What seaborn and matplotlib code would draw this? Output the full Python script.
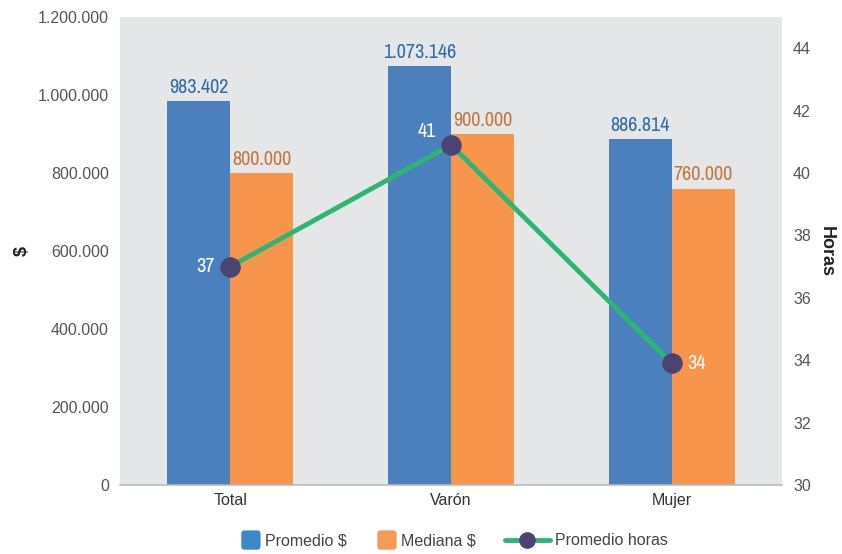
import matplotlib
matplotlib.use("Agg")
import matplotlib.pyplot as plt
import seaborn as sns
import pandas as pd
import numpy as np
from matplotlib import font_manager
from matplotlib.font_manager import FontProperties
from matplotlib.patches import Patch, FancyBboxPatch
from matplotlib.lines import Line2D
from matplotlib.legend_handler import HandlerPatch
from matplotlib.ticker import FuncFormatter, FixedLocator

categories = ["Total", "Varón", "Mujer"]
promedio = [983402, 1073146, 886814]
mediana = [800000, 900000, 760000]
horas = [37.0, 40.9, 33.9]
horas_labels = ["37", "41", "34"]
series_names = ["Promedio $", "Mediana $", "Promedio horas"]

# find a condensed / narrow font file if any
cand = []
for f in font_manager.fontManager.ttflist:
    fn = f.fname.lower()
    if ("condensed" in fn or "narrow" in fn) and "bold" not in fn and "italic" not in fn \
            and "oblique" not in fn and "light" not in fn and "thin" not in fn \
            and "semi" not in fn and "extra" not in fn and "black" not in fn and "medium" not in fn:
        cand.append(f.fname)
cand.sort(key=lambda p: (0 if "narrow" in p.lower() else 1 if "roboto" in p.lower() else 2, p))
narrow_fp = FontProperties(fname=cand[0]) if cand else FontProperties(family="DejaVu Sans", stretch="condensed")

sns.set_theme(style="white")
plt.rcParams["font.family"] = ["Liberation Sans", "DejaVu Sans"]

blue = "#4A80BD"
orange = "#F7954C"
green = "#2DB672"
purple = "#4B4472"

df = pd.DataFrame({
    "cat": categories * 2,
    "serie": [series_names[0]] * 3 + [series_names[1]] * 3,
    "valor": promedio + mediana,
})

fig = plt.figure(figsize=(8.42, 5.54), dpi=100)
ax = fig.add_axes([120 / 842, 69 / 554, 662 / 842, 468 / 554])
ax.set_facecolor("#E5E6E8")

sns.barplot(data=df, x="cat", y="valor", hue="serie", order=categories,
            palette=[blue, orange], width=0.57, saturation=1, ax=ax,
            legend=False, errorbar=None, linewidth=0, edgecolor="none")
ax.set_xlim(-0.5, 2.5)
ax.set_ylim(0, 1200000)
ax.yaxis.set_major_locator(FixedLocator(np.arange(0, 1200001, 200000)))
ax.yaxis.set_major_formatter(FuncFormatter(lambda v, p: f"{int(v):,}".replace(",", ".")))
for s in ["top", "left", "right"]:
    ax.spines[s].set_visible(False)
ax.spines["bottom"].set_color("#BBBBBB")
ax.spines["bottom"].set_linewidth(1.2)
ax.tick_params(axis="both", length=0, labelsize=11.5, labelcolor="#555555", pad=8)
ax.tick_params(axis="x", labelcolor="#333333", pad=6)
ax.set_xlabel("")
ax.set_ylabel("$", fontsize=13, fontweight="bold", color="#222222", labelpad=5)

label_colors = ["#2F6CA3", "#C0783F"]
lab_fp = narrow_fp.copy()
lab_fp.set_size(14.5)
for i, cont in enumerate(ax.containers):
    vals = promedio if i == 0 else mediana
    ax.bar_label(cont, labels=[f"{v:,}".replace(",", ".") for v in vals],
                 padding=3, color=label_colors[i], fontproperties=lab_fp)

ax2 = ax.twinx()
sns.lineplot(x=np.arange(len(categories)), y=horas, ax=ax2, color=green,
             linewidth=3.5, marker="o", markersize=14, markerfacecolor=purple,
             markeredgecolor=purple, zorder=5)
ax2.set_ylim(30, 45)
ax2.yaxis.set_major_locator(FixedLocator(np.arange(30, 45, 2)))
for s in ["top", "left", "right", "bottom"]:
    ax2.spines[s].set_visible(False)
ax2.tick_params(axis="y", length=0, labelsize=11.5, labelcolor="#555555", pad=8)
ax2.set_ylabel("Horas", fontsize=13, fontweight="bold", color="#222222",
               rotation=270, labelpad=17)
ax2.set_xlim(-0.5, 2.5)

offsets = [(-11, 0, "right"), (-11, 10, "right"), (11, 0, "left")]
for i, (dx, dy, ha) in enumerate(offsets):
    ax2.annotate(horas_labels[i], (i, horas[i]), xytext=(dx, dy),
                 textcoords="offset points", ha=ha, va="center",
                 color="white", fontproperties=lab_fp, zorder=6)


def square_patch(legend, orig_handle, xdescent, ydescent, width, height, fontsize):
    size = height * 1.35
    x0 = -xdescent + width - size
    y0 = -ydescent + (height - size) / 2
    return FancyBboxPatch((x0, y0), size, size,
                          boxstyle="round,pad=0,rounding_size=2.5")


patch_handles = [
    Patch(facecolor="#3A88C8", edgecolor="none", label=series_names[0]),
    Patch(facecolor="#F79A57", edgecolor="none", label=series_names[1]),
]
line_handle = Line2D([0], [0], color=green, linewidth=3.5, marker="o", markersize=11,
                     markerfacecolor=purple, markeredgecolor=purple, label=series_names[2])

common = dict(frameon=False, fontsize=11.5, labelcolor="#444444",
              borderpad=0, borderaxespad=0, handletextpad=0.3)
leg1 = fig.legend(handles=patch_handles, loc="center left",
                  bbox_to_anchor=(239 / 842, 0.024), ncol=2,
                  handlelength=1.35, handleheight=1.0, columnspacing=1.75,
                  handler_map={Patch: HandlerPatch(patch_func=square_patch)},
                  **common)
leg2 = fig.legend(handles=[line_handle], loc="center left",
                  bbox_to_anchor=(505 / 842, 0.024), ncol=1,
                  handlelength=2.8, **common)

fig.savefig("out.png", dpi=100)
